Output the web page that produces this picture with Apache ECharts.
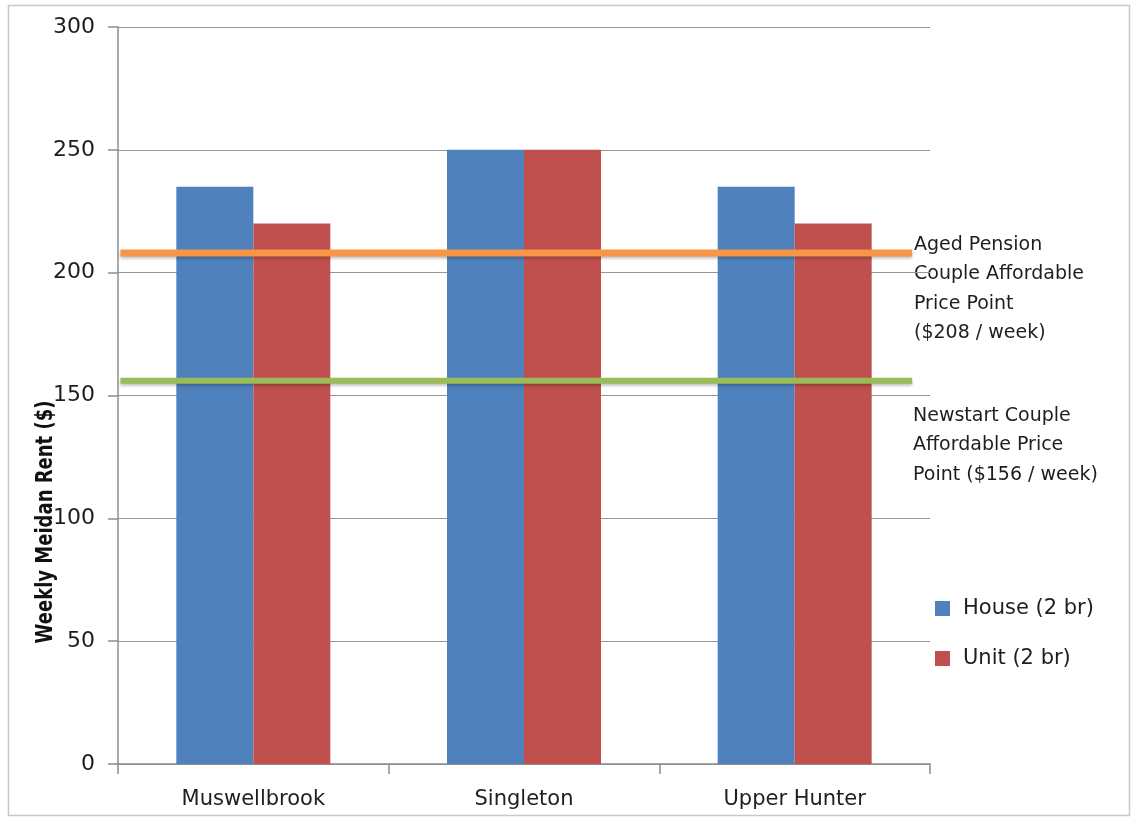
<!DOCTYPE html>
<html>
<head>
<meta charset="utf-8">
<script src="https://cdn.jsdelivr.net/npm/echarts@6/dist/echarts.min.js"></script>
<style>
  html, body { margin: 0; padding: 0; background: #fff; }
  #chart { width: 1133px; height: 818px; }
</style>
</head>
<body>
<div id="chart"></div>
<script>
// Weekly median rents for 2-bedroom dwellings, by local government area
const categories = ['Muswellbrook', 'Singleton', 'Upper Hunter'];
const houseRent = [235, 250, 235];
const unitRent = [220, 250, 220];

// Affordable price points (weekly rent, $)
const agedPensionPoint = 208;
const newstartPoint = 156;

// Horizontal span of the price-point rules, as a fraction of the plot width
const ruleSpan = [0.003, 0.978];

const yMin = 0, yMax = 300, yStep = 50;

const FONT = 'DejaVu Sans';
const TEXT = '#1e1e1e';

const chart = echarts.init(document.getElementById('chart'), null, { renderer: 'canvas' });

const annotStyle = { fontFamily: FONT, fontSize: 19, fill: TEXT, lineHeight: 29.5 };

chart.setOption({
  animation: false,
  backgroundColor: '#fff',
  grid: { left: 118, top: 27, right: 203, bottom: 54, containLabel: false },
  legend: {
    data: ['House (2 br)', 'Unit (2 br)'],
    orient: 'vertical',
    left: 935,
    top: 598,
    padding: 0,
    itemWidth: 15,
    itemHeight: 15,
    itemGap: 29,
    icon: 'rect',
    textStyle: { fontFamily: FONT, fontSize: 21, color: TEXT, padding: [0, 0, 0, 8] }
  },
  xAxis: [
    {
      type: 'category',
      data: categories,
      axisLine: { show: true, lineStyle: { color: '#8c8c8c', width: 1.5 } },
      axisTick: { show: true, length: 10, alignWithLabel: false, lineStyle: { color: '#8c8c8c', width: 1.5 } },
      axisLabel: { fontFamily: FONT, fontSize: 21, color: TEXT, margin: 25 },
      splitLine: { show: false }
    },
    {
      type: 'value',
      min: 0, max: 1,
      show: false
    }
  ],
  yAxis: {
    type: 'value',
    min: yMin, max: yMax, interval: yStep,
    axisLine: { show: true, lineStyle: { color: '#8c8c8c', width: 1.5 } },
    axisTick: { show: true, length: 10, lineStyle: { color: '#8c8c8c', width: 1.5 } },
    axisLabel: { fontFamily: FONT, fontSize: 22, color: TEXT, margin: 23 },
    splitLine: { show: true, lineStyle: { color: '#959595', width: 1.2 } }
  },
  series: [
    {
      name: 'House (2 br)',
      type: 'bar',
      data: houseRent,
      barWidth: 77,
      barGap: '0%',
      itemStyle: { color: '#4F81BD' }
    },
    {
      name: 'Unit (2 br)',
      type: 'bar',
      data: unitRent,
      barWidth: 77,
      barGap: '0%',
      itemStyle: { color: '#C0504D' }
    },
    {
      name: 'Aged Pension',
      type: 'line',
      xAxisIndex: 1,
      symbol: 'none',
      data: ruleSpan.map(x => [x, agedPensionPoint]),
      lineStyle: {
        color: '#F79646', width: 7, cap: 'butt',
        shadowColor: 'rgba(0,0,0,0.25)', shadowBlur: 3, shadowOffsetY: 2
      },
      z: 5
    },
    {
      name: 'Newstart',
      type: 'line',
      xAxisIndex: 1,
      symbol: 'none',
      data: ruleSpan.map(x => [x, newstartPoint]),
      lineStyle: {
        color: '#9BBB59', width: 6, cap: 'butt',
        shadowColor: 'rgba(0,0,0,0.25)', shadowBlur: 3, shadowOffsetY: 2
      },
      z: 5
    }
  ],
  graphic: [
    {
      type: 'rect',
      shape: { x: 8.5, y: 5.5, width: 1121, height: 810 },
      style: { fill: 'none', stroke: '#c8c8c8', lineWidth: 1.5 },
      silent: true
    },
    {
      // rotated axis title, glyphs widened across the axis
      type: 'text',
      x: 46, y: 522,
      rotation: Math.PI / 2,
      scaleY: 1.25,
      z: 10,
      style: {
        text: 'Weekly Meidan Rent ($)',
        fontFamily: FONT, fontSize: 18, fontWeight: 'bold', fill: '#111',
        textAlign: 'center', textVerticalAlign: 'middle'
      }
    },
    {
      type: 'text',
      left: 914, top: 230,
      style: Object.assign({
        text: 'Aged Pension\nCouple Affordable\nPrice Point\n($208 / week)'
      }, annotStyle)
    },
    {
      type: 'text',
      left: 913, top: 401,
      style: Object.assign({
        text: 'Newstart Couple\nAffordable Price\nPoint ($156 / week)'
      }, annotStyle)
    }
  ]
});
</script>
</body>
</html>
